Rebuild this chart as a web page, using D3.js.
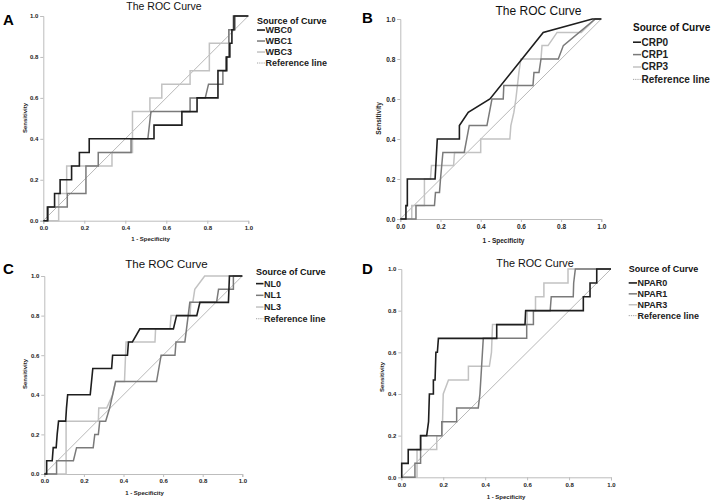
<!DOCTYPE html>
<html><head><meta charset="utf-8">
<script src="https://cdn.jsdelivr.net/npm/d3@7"></script>
<style>
html,body{margin:0;padding:0;background:#fff;}
svg{display:block;font-family:"Liberation Sans",Arial,sans-serif;}
</style></head>
<body><svg id="c" width="714" height="502"></svg>
<script>
// ---------- data ----------
const tickLabels = ["0.0","0.2","0.4","0.6","0.8","1.0"];
const tickValues = [0,0.2,0.4,0.6,0.8,1.0];
const legendTitle = "Source of Curve";
const refLabel = "Reference line";
const chartTitle = "The ROC Curve";
const xTitle = "1 - Specificity";
const yTitle = "Sensitivity";

// Panel A
const namesA = ["WBC0","WBC1","WBC3"];
const wbc0 = [[0,0],[0.02,0],[0.02,0.067],[0.055,0.067],[0.055,0.133],[0.082,0.133],[0.082,0.2],[0.138,0.2],[0.138,0.267],[0.176,0.267],[0.176,0.333],[0.224,0.333],[0.224,0.4],[0.54,0.4],[0.54,0.467],[0.676,0.467],[0.676,0.533],[0.75,0.533],[0.75,0.6],[0.852,0.6],[0.852,0.733],[0.895,0.733],[0.895,0.8],[0.91,0.8],[0.91,0.867],[0.92,0.867],[0.92,0.933],[0.93,0.933],[0.93,1],[1,1]];
const wbc1 = [[0,0],[0.024,0],[0.024,0.067],[0.117,0.067],[0.117,0.133],[0.208,0.133],[0.208,0.267],[0.268,0.267],[0.268,0.333],[0.428,0.333],[0.428,0.4],[0.51,0.4],[0.525,0.533],[0.716,0.533],[0.716,0.6],[0.79,0.6],[0.806,0.667],[0.876,0.667],[0.876,0.733],[0.89,0.733],[0.89,0.8],[0.905,0.8],[0.905,0.933],[0.935,0.933],[0.935,1],[1,1]];
const wbc3 = [[0,0],[0.075,0],[0.075,0.133],[0.114,0.133],[0.114,0.267],[0.335,0.267],[0.335,0.333],[0.435,0.333],[0.435,0.533],[0.52,0.533],[0.52,0.6],[0.578,0.6],[0.578,0.667],[0.716,0.667],[0.716,0.733],[0.81,0.733],[0.81,0.867],[0.905,0.867],[0.905,0.933],[0.925,0.933],[0.925,1],[1,1]];

// Panel B
const namesB = ["CRP0","CRP1","CRP3"];
const crp0 = [[0,0],[0.028,0],[0.028,0.067],[0.035,0.067],[0.035,0.2],[0.173,0.2],[0.184,0.4],[0.294,0.4],[0.294,0.467],[0.338,0.533],[0.446,0.6],[0.711,0.933],[0.955,1],[1,1]];
const crp1 = [[0,0],[0.078,0],[0.078,0.067],[0.17,0.067],[0.175,0.133],[0.195,0.133],[0.2,0.2],[0.212,0.333],[0.318,0.333],[0.343,0.467],[0.431,0.467],[0.456,0.6],[0.512,0.6],[0.515,0.667],[0.66,0.667],[0.665,0.733],[0.69,0.733],[0.7,0.8],[0.786,0.8],[0.811,0.867],[0.97,1],[1,1]];
const crp3 = [[0,0],[0.057,0],[0.057,0.067],[0.12,0.067],[0.12,0.2],[0.15,0.2],[0.155,0.267],[0.265,0.267],[0.27,0.333],[0.4,0.333],[0.4,0.4],[0.545,0.4],[0.55,0.467],[0.565,0.533],[0.575,0.6],[0.59,0.733],[0.6,0.8],[0.7,0.8],[0.705,0.867],[0.735,0.867],[0.78,0.933],[0.9,0.933],[0.97,1],[1,1]];

// Panel C
const namesC = ["NL0","NL1","NL3"];
const nl0 = [[0,0],[0.012,0],[0.012,0.067],[0.04,0.067],[0.045,0.133],[0.06,0.133],[0.065,0.2],[0.072,0.267],[0.108,0.267],[0.112,0.333],[0.118,0.4],[0.232,0.4],[0.245,0.533],[0.34,0.533],[0.345,0.6],[0.42,0.6],[0.425,0.667],[0.445,0.667],[0.483,0.733],[0.652,0.733],[0.668,0.8],[0.77,0.8],[0.786,0.867],[0.93,0.867],[0.935,1],[1,1]];
const nl1 = [[0,0],[0.062,0],[0.062,0.067],[0.147,0.067],[0.163,0.133],[0.247,0.133],[0.255,0.2],[0.273,0.2],[0.28,0.267],[0.31,0.267],[0.33,0.333],[0.345,0.4],[0.36,0.467],[0.567,0.467],[0.59,0.6],[0.66,0.6],[0.665,0.667],[0.71,0.667],[0.735,0.867],[0.87,0.867],[0.88,0.933],[0.955,0.933],[0.955,1],[1,1]];
const nl3 = [[0,0],[0.11,0],[0.11,0.267],[0.273,0.267],[0.275,0.333],[0.315,0.333],[0.345,0.4],[0.36,0.467],[0.405,0.467],[0.413,0.667],[0.559,0.667],[0.562,0.733],[0.635,0.733],[0.64,0.8],[0.736,0.8],[0.74,0.867],[0.75,0.867],[0.76,0.933],[0.81,1],[1,1]];

// Panel D
const namesD = ["NPAR0","NPAR1","NPAR3"];
const npar0 = [[0,0],[0.002,0],[0.002,0.067],[0.033,0.067],[0.033,0.133],[0.092,0.133],[0.092,0.2],[0.121,0.2],[0.13,0.267],[0.134,0.4],[0.153,0.4],[0.153,0.467],[0.161,0.467],[0.165,0.6],[0.172,0.6],[0.177,0.667],[0.455,0.667],[0.455,0.733],[0.59,0.733],[0.593,0.8],[0.868,0.8],[0.868,0.867],[0.9,0.867],[0.9,0.933],[0.932,0.933],[0.932,1],[1,1]];
const npar1 = [[0,0],[0.065,0],[0.065,0.067],[0.092,0.067],[0.092,0.2],[0.193,0.2],[0.193,0.267],[0.264,0.267],[0.264,0.333],[0.367,0.333],[0.375,0.4],[0.383,0.533],[0.391,0.667],[0.598,0.667],[0.598,0.733],[0.63,0.733],[0.63,0.8],[0.71,0.8],[0.715,0.867],[0.82,0.867],[0.822,0.933],[0.83,1],[1,1]];
const npar3 = [[0,0],[0.075,0],[0.075,0.133],[0.169,0.133],[0.169,0.2],[0.195,0.2],[0.2,0.4],[0.225,0.467],[0.32,0.467],[0.32,0.533],[0.42,0.533],[0.43,0.6],[0.435,0.733],[0.6,0.733],[0.6,0.8],[0.64,0.8],[0.64,0.867],[0.68,0.867],[0.68,0.933],[0.795,0.933],[0.795,1],[1,1]];

// ---------- layout / style ----------
const colors = ["#1e1e1e","#7a7a7a","#c2c2c2"];
const widths = [1.6,1.5,1.5];
const panels = [
  {letter:"A", names:namesA, series:[wbc0,wbc1,wbc3], x0:43.3, x1:248.3, yTop:16, yBot:220.7,
   letterPos:[3,25,15], title:[164,9.5,10.5], leg:{x:257,y:23.5,dy:11,fs:9,gap:8,first:9.5},
   tick:6, ylab:[25,118], xlab:[150.5,241], xtickY:230.5},
  {letter:"B", names:namesB, series:[crp0,crp1,crp3], x0:400.3, x1:601.3, yTop:19, yBot:219,
   letterPos:[362,23,15], title:[538.5,15,12], leg:{x:633,y:31,dy:12.4,fs:10,gap:8,first:14.5},
   tick:6.5, ylab:[378.5,118.5], xlab:[503.5,242.5], xtickY:230.8},
  {letter:"C", names:namesC, series:[nl0,nl1,nl3], x0:44.3, x1:242.3, yTop:276, yBot:474,
   letterPos:[3,273.5,15], title:[166.5,268,11.5], leg:{x:256,y:275,dy:11.7,fs:9,gap:7.5,first:11.6},
   tick:6, ylab:[24.5,374], xlab:[144.5,495], xtickY:485.5},
  {letter:"D", names:namesD, series:[npar0,npar1,npar3], x0:401.3, x1:611, yTop:269, yBot:477.3,
   letterPos:[362,274,15], title:[535,266.5,10.8], leg:{x:628.7,y:271.5,dy:10.9,fs:9,gap:8.3,first:14.4},
   tick:6, ylab:[381.5,377], xlab:[506,499], xtickY:488.2}
];

const svg = d3.select("#c");
const axisColor = "#bdbdbd";

panels.forEach(p => {
  const g = svg.append("g");
  const x = d3.scaleLinear().domain([0,1]).range([p.x0,p.x1]);
  const y = d3.scaleLinear().domain([0,1]).range([p.yBot,p.yTop]);

  // axes
  const fmt = (d,i) => tickLabels[i];
  const ax = g.append("g").attr("transform",`translate(0,${p.yBot})`)
    .call(d3.axisBottom(x).tickValues(tickValues).tickFormat(fmt).tickSize(3).tickPadding(2));
  const ay = g.append("g").attr("transform",`translate(${p.x0},0)`)
    .call(d3.axisLeft(y).tickValues(tickValues).tickFormat(fmt).tickSize(3).tickPadding(2));
  [ax,ay].forEach(a=>{
    a.select(".domain").attr("stroke",axisColor).attr("stroke-width",1);
    a.selectAll(".tick line").attr("stroke",axisColor);
    a.selectAll(".tick text").attr("fill","#222").attr("font-size",p.tick).attr("font-weight","bold")
      .attr("font-family","'Liberation Sans',Arial,sans-serif");
  });

  // reference line
  g.append("line").attr("x1",x(0)).attr("y1",y(0)).attr("x2",x(1)).attr("y2",y(1))
    .attr("stroke","#9a9a9a").attr("stroke-width",0.7);

  // curves (draw light first so dark on top)
  const line = d3.line().x(d=>x(d[0])).y(d=>y(d[1]));
  [2,1,0].forEach(i=>{
    g.append("path").datum(p.series[i]).attr("d",line).attr("fill","none")
      .attr("stroke",colors[i]).attr("stroke-width",widths[i]).attr("stroke-linejoin","miter");
  });

  // letter
  g.append("text").attr("x",p.letterPos[0]).attr("y",p.letterPos[1]).text(p.letter)
    .attr("font-size",p.letterPos[2]).attr("font-weight","bold").attr("fill","#000")
    .attr("font-family","Arial,'Liberation Sans',sans-serif");
  // title
  g.append("text").attr("x",p.title[0]).attr("y",p.title[1]).attr("text-anchor","middle")
    .attr("font-size",p.title[2]).attr("fill","#111").text(chartTitle);
  // axis titles
  g.append("text").attr("x",p.xlab[0]).attr("y",p.xlab[1]).attr("text-anchor","middle")
    .attr("font-size",p.tick).attr("font-weight","bold").attr("fill","#222").text(xTitle);
  g.append("text").attr("transform",`translate(${p.ylab[0]},${p.ylab[1]}) rotate(-90)`)
    .attr("text-anchor","middle").attr("dy","0.35em")
    .attr("font-size",p.tick).attr("font-weight","bold").attr("fill","#222").text(yTitle);

  // legend
  const L = p.leg;
  g.append("text").attr("x",L.x).attr("y",L.y).attr("font-size",L.fs).attr("font-weight","bold")
    .attr("fill","#111").text(legendTitle);
  const items = p.names.map((n,i)=>({n, c:colors[i], w:widths[i], dash:null}))
    .concat([{n:refLabel, c:"#8a8a8a", w:0.8, dash:"1.2,1"}]);
  items.forEach((it,i)=>{
    const yy = L.y + L.first + i*L.dy;
    g.append("line").attr("x1",L.x).attr("x2",L.x+L.gap).attr("y1",yy-L.fs*0.33).attr("y2",yy-L.fs*0.33)
      .attr("stroke",it.c).attr("stroke-width",it.w).attr("stroke-dasharray",it.dash);
    g.append("text").attr("x",L.x+L.gap+0.5).attr("y",yy).attr("font-size",L.fs).attr("font-weight","bold")
      .attr("fill","#222").text(it.n);
  });
});
</script></body></html>
